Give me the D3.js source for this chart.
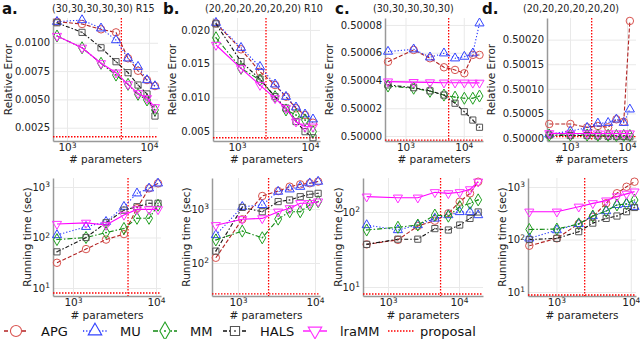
<!DOCTYPE html>
<html>
<head>
<meta charset="utf-8">
<script src="https://cdn.jsdelivr.net/npm/d3@7"></script>
<style>
body { margin: 0; background: #fff; }
svg { display: block; font-family: "DejaVu Sans", sans-serif; }
</style>
</head>
<body>
<svg id="chart" width="640" height="339"></svg>
<script>
const methods = ["APG", "MU", "MM", "HALS", "lraMM"];

// # parameters
const xA1 = [755, 1525, 2600, 3960, 5550, 7350, 9460, 11830];
const xA2 = [641, 1435, 2500, 4110, 5900, 8240, 10570];
const xB = [515, 1135, 2065, 3320, 4690, 6430, 8550, 10990];
const xC = [501, 1380, 2630, 4570, 7080, 10230, 14290, 18620];
const xD = [432, 1014, 1995, 3083, 4667, 6516, 8770, 11220];

// proposal: # parameters and its error / time
const propX = { a: 4600, b: 2495, c: 5500, d: 2400 };
const propErr = [0.0017, 0.0040, 0.4999971, 0.5000026];
const propTime = [7.96, 26.7, 8.07, 8.77];

// relative error, panel a
const errA_APG = [0.01186, 0.01166, 0.01119, 0.01092, 0.00863, 0.00753, 0.00671, 0.00618];
const errA_MU = [0.01186, 0.01201, 0.01128, 0.01024, 0.00863, 0.00789, 0.00671, 0.00618];
const errA_MM = [0.0106, 0.00956, 0.00819, 0.00715, 0.00633, 0.00545, 0.00495, 0.00406];
const errA_HALS = [0.01177, 0.01092, 0.00956, 0.00833, 0.00736, 0.00627, 0.00548, 0.00353];
const errA_lraMM = [0.0106, 0.00956, 0.00819, 0.00736, 0.00633, 0.00554, 0.0051, 0.0043];
// panel b
const errB_APG = [0.02098, 0.01712, 0.0138, 0.01182, 0.01009, 0.00837, 0.00737, 0.00623];
const errB_MU = [0.02107, 0.01736, 0.01454, 0.01193, 0.01009, 0.00852, 0.00748, 0.00674];
const errB_MM = [0.01884, 0.0143, 0.01257, 0.01009, 0.00812, 0.00737, 0.00663, 0.0049];
const errB_HALS = [0.0209, 0.0153, 0.0127, 0.0101, 0.0084, 0.0064, 0.0049, 0.0040];
const errB_lraMM = [0.01776, 0.0143, 0.01182, 0.00985, 0.00837, 0.00638, 0.00564, 0.00564];
// panel c
const errC_APG = [0.5000535, 0.500062, 0.500056, 0.5000495, 0.5000476, 0.5000452, 0.5000584, 0.5000584];
const errC_MU = [0.5000608, 0.5000625, 0.5000567, 0.5000596, 0.500056, 0.5000572, 0.5000596, 0.5000812];
const errC_MM = [0.500036, 0.5000344, 0.5000322, 0.5000295, 0.500028, 0.5000272, 0.5000272, 0.5000288];
const errC_HALS = [0.5000368, 0.5000348, 0.5000325, 0.5000295, 0.5000236, 0.5000175, 0.5000115, 0.5000063];
const errC_lraMM = [0.5000392, 0.5000388, 0.5000386, 0.5000384, 0.5000384, 0.5000384, 0.5000383, 0.5000383];
// panel d
const errD_APG = [0.5000285, 0.5000285, 0.5000217, 0.5000244, 0.5000217, 0.500038, 0.500033, 0.500238];
const errD_MU = [0.5000075, 0.5000142, 0.500021, 0.5000298, 0.500031, 0.500038, 0.500031, 0.5000583];
const errD_MM = [0.500006, 0.500006, 0.500006, 0.5000055, 0.5000055, 0.500005, 0.500005, 0.500005];
const errD_HALS = [0.500006, 0.500005, 0.500005, 0.500004, 0.5000035, 0.500003, 0.500003, 0.5000025];
const errD_lraMM = [0.5000095, 0.500009, 0.500009, 0.500009, 0.500009, 0.500009, 0.500009, 0.500009];

// running time (sec)
const timeA_APG = [31.6, 59, 91, 117, 380, 940, 1180];
const timeA_MU = [112, 163, 205, 407, 750, 940, 1180];
const timeA_MM = [91, 100, 125, 151, 240, 240, 436];
const timeA_HALS = [52, 100, 196, 348, 407, 475, 475];
const timeA_lraMM = [185, 195, 177, 280, 360, 360, 360];

const timeB_APG = [125, 645, 1740, 2150, 2590, 2860, 3000, 3220];
const timeB_MU = [330, 1100, 1190, 2100, 2320, 2590, 3000, 3220];
const timeB_MM = [267, 390, 293, 650, 890, 890, 1190, 1370];
const timeB_HALS = [166, 1070, 890, 1370, 1470, 1690, 1870, 1950];
const timeB_lraMM = [500, 645, 670, 890, 1030, 1280, 1280, 1370];

const timeC_APG = [37, 42.5, 65, 76.5, 96, 137, 177, 253];
const timeC_MU = [67, 57.5, 67, 82, 91, 100, 100, 91];
const timeC_MM = [57.5, 62.6, 67, 91, 88, 118, 130, 145];
const timeC_HALS = [37, 43.4, 43.4, 60, 57.5, 67, 82, 100];
const timeC_lraMM = [160, 155, 155, 183, 177, 183, 200, 253];

const timeD_APG = [76, 105, 200, 270, 490, 760, 1010, 1260];
const timeD_MU = [105, 151, 198, 280, 348, 455, 475, 420];
const timeD_MM = [155, 158, 198, 280, 348, 455, 475, 565];
const timeD_HALS = [100, 105, 141, 205, 252, 280, 338, 407];
const timeD_lraMM = [338, 338, 420, 488, 550, 660, 740, 815];

const titles = ["(30,30,30,30,30) R15", "(20,20,20,20,20,20) R10", "(30,30,30,30,30)", "(20,20,20,20,20,20)"];
const letters = ["a.", "b.", "c.", "d."];

const styles = {
    APG: { color: "#b22222", mark: "#d9534f", dash: "4,2", sym: d3.symbolCircle, size: 44, rot: 0 },
    MU: { color: "#1f2fff", mark: "#3344ff", dash: "1.2,2", sym: d3.symbolTriangle, size: 36, rot: 0 },
    MM: { color: "#118811", mark: "#22a022", dash: "5,2,1.5,2", sym: d3.symbolDiamond, size: 42, rot: 0, dot: true },
    HALS: { color: "#111", mark: "#555", dash: "4,2,1.5,2", sym: d3.symbolSquare, size: 38, rot: 0, dot: true },
    lraMM: { color: "#ff00ff", mark: "#ff33ff", dash: null, sym: d3.symbolTriangle, size: 36, rot: 180 }
};

const panels = [
    { col: 0, row: 0, x: xA1, prop: propX.a, ys: [errA_APG, errA_MU, errA_MM, errA_HALS, errA_lraMM],
      l: 53, r: 158, xDom: [2.829, 4.110], yDom: [0.001326, 0.01219], ticks: [0.0025, 0.005, 0.0075, 0.01], fmt: ".4f", yt: 8 },
    { col: 1, row: 0, x: xB, prop: propX.b, ys: [errB_APG, errB_MU, errB_MM, errB_HALS, errB_lraMM],
      l: 213, r: 320, xDom: [2.671, 4.137], yDom: [0.003516, 0.02177], ticks: [0.005, 0.01, 0.015, 0.02], fmt: ".3f", yt: 172 },
    { col: 2, row: 0, x: xC, prop: propX.c, ys: [errC_APG, errC_MU, errC_MM, errC_HALS, errC_lraMM],
      l: 385, r: 483, xDom: [2.648, 4.33], yDom: [0.4999964, 0.500085], ticks: [0.5, 0.50002, 0.50004, 0.50006, 0.50008], fmt: ".5f", yt: 329 },
    { col: 3, row: 0, x: xD, prop: propX.d, ys: [errD_APG, errD_MU, errD_MM, errD_HALS, errD_lraMM],
      l: 547, r: 636, xDom: [2.596, 4.158], yDom: [0.4999939, 0.500244], ticks: [0.5, 0.50005, 0.5001, 0.50015, 0.5002], fmt: ".5f", yt: 491 },
    { col: 0, row: 1, x: xA2, prop: propX.a, ys: [timeA_APG, timeA_MU, timeA_MM, timeA_HALS, timeA_lraMM],
      l: 53, r: 161, xDom: [2.759, 4.06], yDom: [0.842, 3.178], yt: 27 },
    { col: 1, row: 1, x: xB, prop: propX.b, ys: [timeB_APG, timeB_MU, timeB_MM, timeB_HALS, timeB_lraMM],
      l: 212, r: 320, xDom: [2.662, 4.065], yDom: [1.389, 3.574], yt: 186 },
    { col: 2, row: 1, x: xC, prop: propX.c, ys: [timeC_APG, timeC_MU, timeC_MM, timeC_HALS, timeC_lraMM],
      l: 363, r: 483, xDom: [2.648, 4.338], yDom: [0.88, 2.453], yt: 338 },
    { col: 3, row: 1, x: xD, prop: propX.d, ys: [timeD_APG, timeD_MU, timeD_MM, timeD_HALS, timeD_lraMM],
      l: 528, r: 636, xDom: [2.618, 4.07], yDom: [0.924, 3.171], yt: 502 }
];

const svg = d3.select("#chart");
const rowBox = [{ t: 18, b: 141, xt: 163 }, { t: 178, b: 296, xt: 319 }];

function superLabels(sel) {
    sel.selectAll(".tick text").each(function(d) {
        const t = d3.select(this).text("");
        t.append("tspan").text("10");
        t.append("tspan").attr("dy", "-0.45em").attr("font-size", "7.5px").text(Math.round(Math.log10(d)));
    });
}

function marker(g, s, cx, cy) {
    g.append("path")
        .attr("d", d3.symbol().type(s.sym).size(s.size)())
        .attr("transform", `translate(${cx},${cy}) rotate(${s.rot})`)
        .attr("fill", "none")
        .attr("stroke", s.mark)
        .attr("stroke-width", 1);
    if (s.dot) {
        g.append("circle").attr("cx", cx).attr("cy", cy).attr("r", 0.8).attr("fill", s.mark);
    }
}

panels.forEach(p => {
    const box = rowBox[p.row];
    const g = svg.append("g");
    const x = d3.scaleLog().domain(p.xDom.map(v => 10 ** v)).range([p.l, p.r]);
    const y = p.row === 0
        ? d3.scaleLinear().domain(p.yDom).range([box.b, box.t])
        : d3.scaleLog().domain(p.yDom.map(v => 10 ** v)).range([box.b, box.t]);

    const xt = [1e3, 1e4].filter(v => x(v) >= p.l && x(v) <= p.r);
    const yt = p.row === 0 ? p.ticks : [10, 100, 1000].filter(v => y(v) >= box.t && y(v) <= box.b);

    // grid
    g.append("g").attr("transform", `translate(0,${box.b})`)
        .call(d3.axisBottom(x).tickValues(xt).tickSize(-(box.b - box.t)).tickFormat(""))
        .call(a => a.select(".domain").remove())
        .call(a => a.selectAll("line").attr("stroke", "#e9e9e9"));
    g.append("g").attr("transform", `translate(${p.l},0)`)
        .call(d3.axisLeft(y).tickValues(yt).tickSize(-(p.r - p.l)).tickFormat(""))
        .call(a => a.select(".domain").remove())
        .call(a => a.selectAll("line").attr("stroke", "#e9e9e9"));

    // axes
    const ax = g.append("g").attr("transform", `translate(0,${box.b})`)
        .call(d3.axisBottom(x).tickValues(xt).tickSize(0).tickPadding(3).tickSizeOuter(0));
    ax.select(".domain").attr("stroke", "#999").attr("stroke-width", 1.5);
    ax.selectAll("text").attr("font-size", "10.5px").attr("font-family", "DejaVu Sans").attr("fill", "#222");
    superLabels(ax);

    const ay = g.append("g").attr("transform", `translate(${p.l},0)`)
        .call(d3.axisLeft(y).tickValues(yt).tickSize(0).tickPadding(3).tickSizeOuter(0)
            .tickFormat(p.row === 0 ? d3.format(p.fmt) : null));
    ay.select(".domain").attr("stroke", "#999").attr("stroke-width", 1.5);
    ay.selectAll("text").attr("font-size", "10px").attr("font-family", "DejaVu Sans").attr("fill", "#222");
    if (p.row === 1) superLabels(ay);

    // proposal
    const red = g.append("g").attr("stroke", "#ff0000").attr("stroke-width", 1.3).attr("stroke-dasharray", "1.5,1.5");
    red.append("line").attr("x1", x(p.prop)).attr("x2", x(p.prop)).attr("y1", box.t).attr("y2", box.b);
    const hv = p.row === 0 ? propErr[p.col] : propTime[p.col];
    red.append("line").attr("x1", p.l).attr("x2", p.r).attr("y1", y(hv)).attr("y2", y(hv));

    // series
    methods.forEach((m, k) => {
        const s = styles[m];
        const pts = p.x.map((v, j) => [x(v), y(p.ys[k][j])]);
        g.append("path")
            .attr("d", d3.line()(pts))
            .attr("fill", "none")
            .attr("stroke", s.color)
            .attr("stroke-width", 1.1)
            .attr("stroke-dasharray", s.dash);
        pts.forEach(q => marker(g, s, q[0], q[1]));
    });

    // axis titles
    g.append("text").attr("x", (p.l + p.r) / 2).attr("y", box.xt)
        .attr("text-anchor", "middle").attr("font-size", "10.5px").attr("fill", "#222").text("# parameters");
    g.append("text").attr("transform", `translate(${p.yt},${(box.t + box.b) / 2}) rotate(-90)`)
        .attr("text-anchor", "middle").attr("dominant-baseline", "central")
        .attr("font-size", "10.5px").attr("fill", "#222")
        .text(p.row === 0 ? "Relative Error" : "Running time (sec)");
});

// panel letters and titles
const letterX = [2, 163, 335, 482];
const titleX = [52, 205, 373, 523];
letters.forEach((t, i) => {
    svg.append("text").attr("x", letterX[i]).attr("y", 14)
        .attr("font-size", "15px").attr("font-weight", "bold").attr("fill", "#111").text(t);
    svg.append("text").attr("x", titleX[i]).attr("y", 12)
        .attr("font-size", "9.6px").attr("fill", "#222").text(titles[i]);
});

// legend
const legX = [16, 95, 165, 235, 315];
const legY = 331;
methods.forEach((m, k) => {
    const s = styles[m];
    const lg = svg.append("g");
    lg.append("line").attr("x1", legX[k] - 12).attr("x2", legX[k] + 12).attr("y1", legY).attr("y2", legY)
        .attr("stroke", s.color).attr("stroke-width", 1.3).attr("stroke-dasharray", s.dash);
    lg.append("path")
        .attr("d", d3.symbol().type(s.sym).size(s.size * 2.2)())
        .attr("transform", `translate(${legX[k]},${legY}) rotate(${s.rot})`)
        .attr("fill", "#fff").attr("stroke", s.mark).attr("stroke-width", 1.1);
    if (s.dot) lg.append("circle").attr("cx", legX[k]).attr("cy", legY).attr("r", 1).attr("fill", s.mark);
    lg.append("text").attr("x", legX[k] + 25).attr("y", legY).attr("dominant-baseline", "central")
        .attr("font-size", "13px").attr("fill", "#111").text(m);
});
svg.append("line").attr("x1", 388).attr("x2", 414).attr("y1", legY).attr("y2", legY)
    .attr("stroke", "#ff0000").attr("stroke-width", 1.5).attr("stroke-dasharray", "1.5,1.5");
svg.append("text").attr("x", 420).attr("y", legY).attr("dominant-baseline", "central")
    .attr("font-size", "13px").attr("fill", "#111").text("proposal");
</script>
</body>
</html>
